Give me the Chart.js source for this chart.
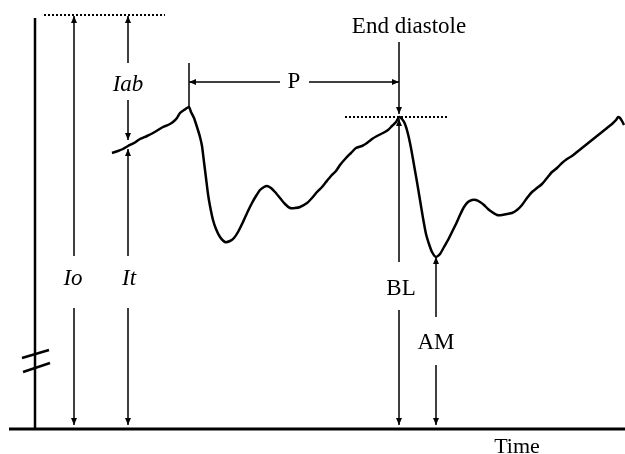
<!DOCTYPE html>
<html>
<head>
<meta charset="utf-8">
<script src="https://cdn.jsdelivr.net/npm/chart.js@4/dist/chart.umd.min.js"></script>
<style>
  html, body { margin: 0; padding: 0; background: #fff; }
  #wrap { width: 625px; height: 454px; }
</style>
</head>
<body>
<div id="wrap"><canvas id="chart" width="625" height="454"></canvas></div>
<script>
// ---- waveform (time units, intensity units above the baseline) ----
const waveTime = [112,118,123,128,134,140,147,153,158,163,168,173,177,180,184,189,191,194,197,200,
  202,204,206,208,210,213,216,220,225,230,234,238,243,248,252,256,260,264,267,271,
  275,280,285,290,295,300,307,312,317,322,326,331,336,340,346,351,356,362,367,372,
  377,383,388,392,396,399,402,405,408,411,414,417,420,423,426,429,432,436,440,444,
  448,452,456,460,464,468,472,476,480,484,488,492,497,502,507,512,517,522,527,532,
  537,542,547,552,557,562,567,572,577,582,587,592,597,602,607,612,616,618,620,622,624];
const waveLevel = [277,279,281,284,287,291,294,297,300,303,305,308,312,317,320,323,318,312,303,293,
  284,268,252,236,224,210,201,193,188,189,192,198,208,219,227,234,240,243,244,242,
  238,232,226,222,222,223,227,232,238,243,248,254,259,265,272,277,282,284,287,291,
  294,297,300,304,308,313,311,306,296,282,265,248,230,212,196,186,178,173,176,183,
  190,198,206,215,223,228,230,230,228,225,221,218,215,215,216,217,220,225,232,238,
  242,246,252,258,262,267,271,274,278,282,286,290,294,298,302,306,310,313,312,309,305];

// ---- annotation values ----
const axisTime = 35, axisTop = 412;
const incidentLevel = 415;            // Io, dotted reference line
const incidentSpan = [44, 165];
const ioTime = 74, itTime = 128;
const iabBottom = 290, itTop = 281;
const peakTime = [189, 399];          // systolic peak, end diastole
const peakLevel = [323, 313];
const pLevel = 348, pTickTop = 367;
const diastoleSpan = [345, 448];
const edLineTop = 388;
const troughTime = 436, troughLevel = 173;
const labels = [
  { text: 'Io',  t: 73,  v: 151, italic: true },
  { text: 'It',  t: 129, v: 151, italic: true },
  { text: 'Iab', t: 128, v: 345, italic: true },
  { text: 'P',   t: 294, v: 348 },
  { text: 'End diastole', t: 409, v: 403 },
  { text: 'BL',  t: 401, v: 141 },
  { text: 'AM',  t: 436, v: 87 },
  { text: 'Time', t: 517, v: -17, size: 22 }
];

const FONT = '"Liberation Serif", "Times New Roman", serif';

const annotate = {
  id: 'annotate',
  afterDraw(chart) {
    const { ctx, scales: { x, y } } = chart;
    const X = t => x.getPixelForValue(t);
    const Y = v => y.getPixelForValue(v);
    ctx.save();
    ctx.strokeStyle = '#000';
    ctx.fillStyle = '#000';
    ctx.lineCap = 'butt';

    function seg(t1, v1, t2, v2, w) {
      ctx.lineWidth = w;
      ctx.beginPath();
      ctx.moveTo(X(t1), Y(v1));
      ctx.lineTo(X(t2), Y(v2));
      ctx.stroke();
    }
    function head(px, py, dx, dy) {
      // filled arrow head with tip at px,py pointing along dx,dy
      const L = 7, W = 3;
      const nx = -dy, ny = dx;
      ctx.beginPath();
      ctx.moveTo(px, py);
      ctx.lineTo(px - dx * L + nx * W, py - dy * L + ny * W);
      ctx.lineTo(px - dx * L - nx * W, py - dy * L - ny * W);
      ctx.closePath();
      ctx.fill();
    }
    // vertical double-headed arrow with optional gap for label
    function vArrow(t, vLow, vHigh, upHead, downHead, gap) {
      const px = X(t);
      ctx.lineWidth = 1.5;
      ctx.beginPath();
      if (gap) {
        ctx.moveTo(px, Y(vHigh)); ctx.lineTo(px, Y(gap[1]));
        ctx.moveTo(px, Y(gap[0])); ctx.lineTo(px, Y(vLow));
      } else {
        ctx.moveTo(px, Y(vHigh)); ctx.lineTo(px, Y(vLow));
      }
      ctx.stroke();
      if (upHead) head(px, Y(vHigh), 0, -1);
      if (downHead) head(px, Y(vLow), 0, 1);
    }
    function dotted(t1, t2, v) {
      ctx.save();
      ctx.setLineDash([2, 2]);
      seg(t1, v, t2, v, 2);
      ctx.restore();
    }

    // baseline and intensity axis
    seg(9, 1, 625, 1, 3);
    seg(axisTime, axisTop, axisTime, 0, 2.5);
    // axis break
    seg(22, 72, 49, 80, 2.5);
    seg(23, 58, 50, 67, 2.5);

    // reference levels
    dotted(incidentSpan[0], incidentSpan[1], incidentLevel);
    dotted(diastoleSpan[0], diastoleSpan[1], peakLevel[1]);

    // Io, Iab, It
    vArrow(ioTime, 5, incidentLevel - 1, true, true, [122, 174]);
    vArrow(itTime, iabBottom, incidentLevel - 1, true, true, [330, 367]);
    vArrow(itTime, 5, itTop, true, true, [122, 174]);

    // P interval
    seg(peakTime[0], pTickTop, peakTime[0], peakLevel[0], 1.5);
    seg(peakTime[0], pLevel, 280, pLevel, 1.5);
    seg(309, pLevel, peakTime[1], pLevel, 1.5);
    head(X(peakTime[0]), Y(pLevel), -1, 0);
    head(X(peakTime[1]), Y(pLevel), 1, 0);

    // end diastole marker and BL
    seg(peakTime[1], edLineTop, peakTime[1], peakLevel[1] + 3, 1.5);
    head(X(peakTime[1]), Y(peakLevel[1] + 3), 0, 1);
    vArrow(peakTime[1], 5, peakLevel[1] - 2, true, true, [120, 168]);

    // AM
    vArrow(troughTime, 5, troughLevel, true, true, [65, 113]);

    // labels
    ctx.textAlign = 'center';
    ctx.textBaseline = 'middle';
    labels.forEach(l => {
      ctx.font = (l.italic ? 'italic ' : '') + (l.size || 23) + 'px ' + FONT;
      ctx.fillText(l.text, X(l.t), Y(l.v));
    });
    ctx.restore();
  }
};

new Chart(document.getElementById('chart'), {
  type: 'line',
  data: {
    datasets: [{
      data: waveTime.map((t, i) => ({ x: t, y: waveLevel[i] })),
      borderColor: '#000',
      borderWidth: 2.5,
      pointRadius: 0,
      tension: 0.2,
      fill: false
    }]
  },
  options: {
    responsive: false,
    animation: false,
    devicePixelRatio: 1,
    layout: { padding: 0 },
    plugins: { legend: { display: false }, tooltip: { enabled: false } },
    scales: {
      x: { type: 'linear', min: 0, max: 625, display: false },
      y: { type: 'linear', min: -24, max: 430, display: false }
    }
  },
  plugins: [annotate]
});
</script>
</body>
</html>
